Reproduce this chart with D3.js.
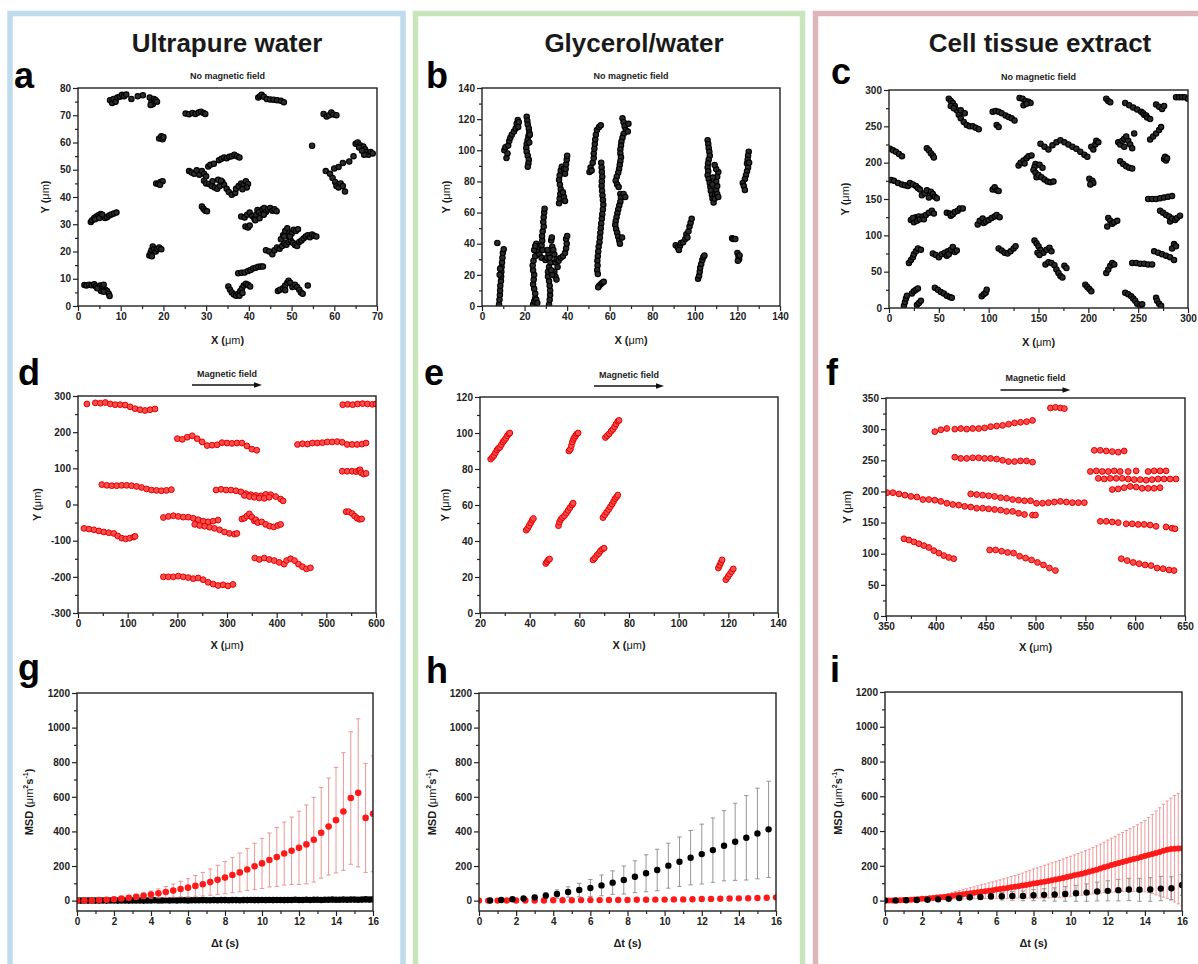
<!DOCTYPE html>
<html lang="en">
<head>
<meta charset="utf-8">
<title>Particle trajectories and MSD</title>
<script src="https://cdn.jsdelivr.net/npm/d3@7"></script>
<style>
  body { margin: 0; background: #fff; }
  svg { display: block; font-family: "Liberation Sans", Arial, sans-serif; }
</style>
</head>
<body>
<svg id="fig" width="1198" height="964"></svg>
<script>
// ---- panel a : ultrapure water, no field (x, y in um) ----
const trajA = [
  [[7.5,75.5],[8,74.5],[8.3,76],[8.8,75],[9.2,76.5],[9.8,76.8],[10.3,77.5],[10.8,77],[11.3,77.6],[12.5,76],[14,77],[15.2,77.3]],
  [[16.8,76.5],[17.2,75],[17.5,74],[17.8,76],[18.2,75.5],[18.5,75],[17,73.8]],
  [[25.2,70.6],[26,70.4],[26.8,70.8],[27.5,70.5],[28.2,71],[28.8,71.3],[29.4,70.8],[29.8,70.5]],
  [[42.2,76.5],[42.6,77],[43,77.5],[43.5,76.8],[44.2,76],[45,75.8],[45.8,75.7],[46.6,75.5],[47.5,75.3],[48.2,74.8]],
  [[57.5,70.5],[58.2,69.5],[58.8,70],[59.3,71],[59.8,70.3],[60.5,70]],
  [[19,61.5],[19.5,62.3],[19.8,61.2],[20,62]],
  [[54.8,58.8]],
  [[65,59.5],[65.5,60],[66,59],[66.8,58.5],[67.2,57.5],[67.5,56.5],[68,55.5],[68.5,56.5],[69,56],[67,55.5],[65.8,58.2],[66.5,57]],
  [[58,49.5],[59,48.5],[59.6,47],[60.2,45.5],[60.5,44],[61,43.5],[61.5,45],[62,44],[62.5,42],[60,50.5],[61,51],[62,52.5],[63.5,53],[64.5,55]],
  [[18.3,45],[18.8,44.8],[19.3,45.5],[19.8,45.8],[19.2,44.5]],
  [[3,30.8],[3.3,31.5],[3.8,32.3],[4.3,32.8],[4.8,33.3],[5.3,33.8],[5.8,32.8],[6.3,32.3],[6.8,32.6],[7.3,33.2],[7.8,33.6],[8.4,33.9],[9,34.3],[4,31.8],[5,32.3],[5.7,33.5]],
  [[16.7,18.5],[17,19.5],[17.2,20.5],[17.5,21.8],[17.8,20.8],[18.2,20],[18.6,20.8],[19,21.5],[19.5,20.8],[17.3,18.3]],
  [[1.5,7.7],[2,7.5],[2.6,7.8],[3.2,7.6],[3.8,8],[4.2,7.2],[4.8,6.8],[5.2,7.5],[5.6,6.5],[6,7.8],[6.4,6],[6.8,5.5],[7.2,4.5],[7.4,3.7],[5.4,5.5],[6,5.2],[4.5,6.5]],
  [[26,49.5],[26.6,49],[27.2,48.5],[27.8,49.8],[28.4,48.2],[29,49.5],[29.5,48.5],[30,47.6],[30.5,51.2],[31,51.8],[31.8,52.2]],
  [[33,53.5],[33.6,54],[34.2,54.5],[34.8,54.2],[35.4,54.8],[36,55],[36.6,55.5],[37.2,55],[37.8,54.5]],
  [[29.5,46],[30,45],[30.7,44.8],[31.3,44],[32,43.5],[32.6,43],[33.2,44],[33.8,45.5],[34.2,44.5],[34.8,43],[35.3,41.8],[36,40.8],[36.8,41.5],[32.8,46.3],[33.5,46],[31.5,45.8]],
  [[37,43],[37.6,44],[38.2,45],[38.8,44.5],[39.3,45.8],[39.8,44.8],[39.5,43.5],[38.5,42.8]],
  [[29,36.5],[29.4,35.6],[29.8,35],[30.2,34.8]],
  [[38.2,32.8],[39,32.5],[39.6,33.5],[40.2,34.3],[40.8,33],[41.3,32],[41.7,33.5],[42,35.2],[42.4,34.5],[42.8,33.3],[43.2,35.5],[43.6,36],[44,34.5],[44.5,35.5],[45,36],[45.5,35],[46,35.5],[46.5,34.8],[41.5,31.5],[42.5,32.2],[43.5,33.5],[39.2,29.2],[39.8,28.8],[40.2,29.5]],
  [[44,20.5],[44.8,20],[45.5,19],[46,20.5],[46.6,21.5],[47.2,21],[47.8,22],[48.3,23],[48.8,22.5],[49.3,23.5],[49.8,24],[50.3,23.2],[50.8,22.4],[51.3,22],[51.8,23.5],[52.3,24],[52.8,24.8],[53.3,25.5],[53.8,26],[54.3,25.2],[54.8,26.2],[55.3,25.8],[55.8,25.5]],
  [[47.5,24.5],[48,26],[48.5,27.5],[49,28.5],[49.5,27],[50,26.5],[50.5,28],[51,27.5],[51.5,28.2],[48.3,25.5],[49.6,25.5]],
  [[37.5,12],[38.3,12.2],[39,12.3],[39.8,12.8],[40.4,13.2],[41,13.8],[41.6,14],[42.2,14.4],[42.8,14.5],[43.3,14.5]],
  [[35.2,7.2],[35.6,6],[36,5],[36.5,4.2],[37,3.8],[37.5,4.5],[38,5.5],[38.4,6.5],[38.8,7.5],[39.3,8.2],[39.8,7.8],[40.3,7.2],[37.8,3.8],[38.5,4.8]],
  [[46.8,5.5],[47.3,6],[48,6.5],[48.5,7.5],[49,8.5],[49.3,9.3],[49.7,8.5],[50.2,7],[50.8,7.8],[51.3,7],[51.8,6],[52.2,5],[52.6,4.5],[53.8,7.5],[48.5,5.8]]
];

// ---- panel b : glycerol/water, no field ----
const trajB = [
  [[7.2,40.5],[8,1],[8.2,4],[8.4,7],[8.5,10],[8.6,13],[8.9,16],[9,19],[9.1,22],[9.2,25],[9.4,28],[9.6,31],[9.8,34],[10.2,36.5],[8.3,20],[8.5,24]],
  [[10.5,100],[11,102],[11.5,95],[12,98],[12.3,103],[12.8,106],[13.3,108],[14,110],[15,112],[15.8,114],[16.3,117],[16.8,119.5],[17.3,118],[17,115]],
  [[21,121.5],[21.3,119],[21.5,116.5],[22,114],[22.2,111.5],[21.8,109],[21.4,106.5],[21,104],[20.8,101.5],[21,99],[21.5,96.5],[22,94],[21.8,91.5],[21.5,89.5],[22.5,110],[22.2,105]],
  [[24,1],[24.5,3],[25,5],[25.5,4],[26,2],[25,8],[24.5,11],[24,14],[24.3,17],[24.5,20],[24,23],[23.8,26],[24.2,29],[25,32],[26,35],[26.5,38],[25.5,40],[27,33],[28,31],[28.5,36],[28,39],[28.3,42],[28.2,45],[28.5,48],[29,51],[28.8,54],[29,57],[29.2,60],[29.4,62.5],[29.8,29.5],[30.5,31],[24.5,36],[25,38.5]],
  [[31.5,1],[31.8,4],[32,7],[32,10],[31.8,13],[31.5,16],[31,19],[31,22],[31.5,25],[32.2,28],[31.8,31],[31.2,34],[30.8,36],[32.5,42],[32.8,44],[33,38],[33.5,36],[34,33],[34.5,28],[35,30],[35.5,25],[34,22],[34.5,19],[35,17],[36,29],[37,31],[38,32],[39,34],[39.5,37],[39.8,40],[39.5,43],[40,45],[33,20],[32.5,23]],
  [[36.2,66],[36.5,69],[36.8,72],[37,75],[36.6,78],[36.2,81],[36.5,84],[37,87],[37.5,89.5],[38.5,88],[39,85],[39.3,88],[39.5,91],[39.8,94],[40,96.5],[38.5,70],[39,67.5],[38,73]],
  [[50.5,86],[51,89],[51.5,87],[52,92],[52.5,95],[52.5,98],[52.8,101],[53,104],[53.2,107],[53.5,110],[54,113],[55,115],[55.8,116]],
  [[56,92],[56.2,89],[56.3,86],[56.5,83],[56.3,80],[56.2,77],[56.4,74],[56.6,71],[56.8,68],[57,65],[56.8,62],[56.5,59],[56.3,56],[56,53],[55.8,50],[55.6,47],[55.4,44],[55.2,41],[54.8,38],[54.6,35],[54.4,32],[54.2,29],[54.3,26],[54.1,23],[54.4,20.5],[55,13],[55.8,14],[56.5,15],[57.2,15.5],[54.6,12]],
  [[66,120.5],[66.5,118],[67,115.5],[67.5,113],[66.5,110.5],[66,108],[65.5,105.5],[65.3,103],[65,100.5],[65,98],[65.3,95.5],[65,93],[64.7,90.5],[64.4,88],[64,85.5],[63.3,83],[62.8,80.5],[63.5,78],[64.2,76.5],[65,72],[65.3,69.5],[65,67],[64.5,64.5],[64,62],[63.6,59.5],[63.2,57],[62.8,54.5],[62.6,52],[63,49.5],[63.5,47],[64,44.5],[64.5,42],[64.8,40],[65.8,44],[66.5,72],[67.3,70],[68.5,112],[68.8,117]],
  [[91,39],[92,37.5],[93,38.5],[93.5,40.5],[94.5,41],[95.5,43],[96,46],[97,48],[97.5,51],[98,53.5],[98.5,56],[92.5,36],[96.5,44]],
  [[101.5,17.5],[102,19.5],[102.3,22],[102.5,24.5],[103,27],[103.5,29.5],[104,31.5],[104.5,32.5]],
  [[106,106.5],[106.3,104],[106.5,101.5],[106.8,99],[107,96.5],[106.5,94],[106.2,91.5],[106,89],[106.3,86.5],[106,84],[106.5,81.5],[107,79],[107.3,76.5],[107.5,74],[108,71.5],[108.3,69],[108.8,66.5],[109.3,69],[109.5,72],[110,74.5],[110.5,72],[111,70],[110.5,77],[110,80],[110.5,83],[111,86],[110,88],[109.3,90.5],[108.5,82.5],[108.2,78]],
  [[117.5,43.5],[118,43],[119,43]],
  [[120,34],[120.5,32],[120.8,30],[120.2,29],[121,32.5]],
  [[125.3,99],[125,96.5],[124.8,94],[124.5,91.5],[125,89],[124.5,86.5],[124,84],[123.5,81.5],[122.5,79],[123,77],[123.5,74.5],[125.5,92]]
];

// ---- panel c : cell tissue extract, no field ----
const trajC = [
  [[1,219],[4,217],[7,215],[10,212],[13,209]],
  [[2,176],[5,175],[9,172],[13,170],[16,169],[19,168]],
  [[21,172],[24,170],[27,168],[29,165],[31,163]],
  [[33,155],[36,158],[38,162],[40,152],[42,160],[44,157],[46,153],[48,151]],
  [[38,220],[40,217],[42,213],[44,210],[45,207]],
  [[22,121],[25,118],[27,125],[28,120],[30,126],[31,122],[34,126],[35,122],[37,128],[40,131],[43,134],[45,130],[24,124]],
  [[58,131],[61,130],[62,127],[64,129],[66,132],[69,134],[71,137],[74,137]],
  [[20,62],[22,66],[24,70],[25,74],[27,78],[29,82],[32,80]],
  [[44,75],[47,73],[50,70],[53,74],[56,76],[58,72],[59,78],[60,74],[62,80],[64,84],[66,77],[68,79]],
  [[15,3],[16,8],[17,13],[18,17]],
  [[23,20],[25,23],[27,25],[29,27]],
  [[28,4],[30,7],[32,10]],
  [[46,28],[49,25],[52,22],[55,20],[58,17],[61,15],[63,14]],
  [[60,288],[62,285],[64,282],[66,278],[68,272],[70,266],[72,261],[75,256],[78,252],[81,250],[84,250],[87,248],[90,246],[72,272],[76,268],[62,278],[65,275]],
  [[89,115],[91,120],[94,123],[95,117],[97,119],[100,121],[103,124],[106,126],[108,128],[111,125]],
  [[104,163],[106,166],[108,162],[110,161]],
  [[104,270],[107,271],[110,270],[113,268],[117,265],[120,263],[123,261],[126,258],[108,252],[110,249]],
  [[110,82],[113,79],[116,76],[119,75],[122,78],[125,82],[127,85]],
  [[93,16],[95,19],[97,21],[98,25]],
  [[131,289],[134,288],[137,285],[140,284],[142,282],[135,279],[138,281]],
  [[130,196],[132,200],[135,203],[136,199],[138,206],[140,209],[143,210]],
  [[147,198],[146,194],[145,190],[147,186],[148,180],[150,183],[153,180],[156,177],[159,174],[162,173],[165,174],[151,197],[154,193]],
  [[146,93],[148,89],[150,85],[152,80],[155,76],[158,80],[161,83],[163,78],[149,76],[151,73]],
  [[157,60],[160,63],[163,62],[166,59],[168,53],[170,48],[172,44],[174,42],[176,58],[178,55]],
  [[152,226],[156,222],[160,218],[164,224],[168,228],[172,231],[176,228],[180,225],[184,222],[188,219],[192,215],[196,211],[199,208]],
  [[201,178],[204,175],[205,172],[202,170]],
  [[203,222],[205,218],[207,225],[208,230],[210,228]],
  [[197,32],[199,29],[201,26],[203,23]],
  [[218,48],[220,53],[222,58],[224,62],[226,60]],
  [[219,112],[220,124],[222,120],[224,116],[226,118],[229,120]],
  [[218,288],[220,285],[222,283]],
  [[230,228],[232,225],[234,230],[236,233],[236,222],[238,236],[240,230],[242,225],[244,220],[246,240]],
  [[232,202],[235,198],[238,195],[241,193],[244,192]],
  [[237,282],[241,279],[245,276],[249,273],[253,270],[255,268],[256,266],[258,265],[259,262],[262,260]],
  [[262,232],[265,236],[268,240],[271,245],[273,249]],
  [[268,280],[271,277],[274,274],[276,278]],
  [[288,290],[291,290],[294,290],[297,290],[300,288]],
  [[276,205],[278,203],[277,208],[279,206]],
  [[260,150],[264,150],[268,150],[272,151],[276,152],[280,153],[284,154]],
  [[272,134],[275,131],[278,128],[281,126],[282,119],[284,123],[287,121],[289,124],[292,127]],
  [[266,78],[270,76],[274,74],[278,72],[282,70],[286,66],[284,82],[286,88],[288,85]],
  [[244,62],[248,62],[252,61],[256,61],[260,60],[264,60]],
  [[237,21],[240,19],[243,16],[245,13],[247,10],[249,6]],
  [[252,3],[254,5]],
  [[268,14],[269,10],[271,6],[273,3]]
];

// ---- panel d : ultrapure water, magnetic field ----
const trajD = [
  [[18,278],[35,281],[45,280],[55,282],[65,278],[75,276],[85,276],[95,275],[105,270],[115,265],[125,262],[135,260],[145,262],[155,264]],
  [[200,182],[210,180],[220,186],[230,190],[240,182],[250,173],[260,163],[270,164],[280,165],[290,171],[300,170],[310,169],[320,170],[330,170],[340,162],[350,153],[360,150]],
  [[442,166],[452,168],[462,167],[472,170],[482,170],[492,171],[502,173],[512,173],[522,174],[532,172],[542,166],[552,166],[562,166],[572,167],[580,170]],
  [[533,276],[543,277],[553,276],[563,278],[573,279],[583,278],[593,277],[600,278]],
  [[532,92],[542,92],[552,92],[560,91],[565,94],[568,96],[570,88],[575,84],[580,86]],
  [[540,-20],[545,-20],[552,-25],[557,-32],[562,-38],[567,-41],[571,-40]],
  [[48,55],[58,53],[68,52],[78,52],[88,53],[98,53],[108,52],[118,50],[128,47],[138,43],[148,40],[158,39],[168,38],[178,39],[188,41]],
  [[12,-66],[22,-68],[32,-70],[42,-73],[52,-76],[62,-78],[72,-80],[80,-87],[88,-93],[96,-95],[104,-93],[112,-90],[115,-88]],
  [[172,-36],[182,-33],[192,-31],[202,-33],[212,-35],[222,-35],[232,-38],[242,-42],[252,-46],[262,-48],[272,-46],[282,-43]],
  [[235,-55],[245,-58],[255,-60],[265,-63],[275,-66],[285,-70],[295,-76],[305,-80],[315,-82],[320,-80]],
  [[278,40],[288,42],[298,40],[308,40],[318,38],[328,35],[338,30],[348,27],[358,25],[368,24],[378,28],[388,27],[398,22],[408,15],[413,10],[335,25],[345,22],[355,20],[365,18],[375,17],[385,20]],
  [[330,-40],[335,-38],[340,-32],[345,-26],[350,-35],[355,-45],[358,-42],[362,-50],[370,-48],[378,-55],[386,-60],[394,-62],[402,-58],[408,-55]],
  [[356,-148],[365,-152],[375,-148],[385,-152],[395,-155],[405,-160],[415,-165],[420,-155],[428,-150],[436,-155],[444,-165],[452,-172],[460,-178],[468,-175]],
  [[172,-200],[182,-200],[192,-200],[202,-198],[212,-200],[222,-202],[232,-205],[242,-203],[252,-208],[262,-215],[272,-220],[282,-224],[292,-222],[302,-225],[312,-221]]
];

// ---- panel e : glycerol/water, magnetic field ----
const trajE = [
  [[24.3,85.5],[25,86.5],[25.6,87.5],[26.2,89],[26.8,90.5],[27.4,91.5],[28,92],[28.6,93.5],[29.2,95],[29.8,96],[30.4,97],[31,98.5],[31.6,99.5],[32,100]],
  [[55.8,90],[56.4,91],[56.8,93],[57.2,95],[57.6,96.5],[58,97.5],[58.5,98.5],[59,99.5],[59.5,100]],
  [[70.5,97.5],[71.2,98.5],[72,99.5],[72.8,101],[73.5,102],[74.2,103.5],[74.8,105],[75.5,106.5],[76,107]],
  [[38.6,46],[39.2,47],[39.8,48.5],[40.4,50],[41,51.5],[41.5,52.5]],
  [[51.6,48.5],[52,50.5],[52.5,52],[53.2,53],[54,54],[54.8,55.5],[55.5,57],[56.2,58.5],[57,60],[57.5,61]],
  [[69.5,53],[70.2,54.5],[71,56],[71.8,57.5],[72.5,59],[73.2,60.5],[73.8,62],[74.4,63.5],[75,64.5],[75.5,65.5]],
  [[46.5,27.5],[47,28.5],[47.5,29.5],[48,30]],
  [[65.5,29.5],[66.2,30.5],[67,32],[67.8,33],[68.5,34.5],[69.3,35.5],[70,36]],
  [[116,25],[116.5,26.5],[117,28],[117.5,29.5]],
  [[119,18.5],[119.8,20],[120.5,21.5],[121.3,23],[122,24.5]]
];

// ---- panel f : cell tissue extract, magnetic field ----
const trajF = [
  [[399,296],[405,299],[411,301],[419,300],[425,301],[431,300],[437,301],[443,301],[449,302],[455,304],[461,305],[467,306],[473,308],[479,310],[485,311],[491,312],[497,314]],
  [[515,334],[520,335],[525,334],[529,333]],
  [[419,255],[425,253],[431,253],[437,254],[443,254],[449,253],[455,253],[461,252],[467,250],[473,248],[479,248],[485,249],[491,249],[497,247]],
  [[351,198],[357,198],[363,196],[369,194],[375,192],[381,191],[387,187],[393,187],[399,186],[405,184],[411,181],[417,179],[423,178],[429,176],[435,175],[441,173],[447,173],[453,172],[459,171],[465,170],[471,168],[477,168],[483,165],[489,163],[497,162],[500,162]],
  [[435,196],[441,195],[447,194],[453,193],[459,192],[465,190],[471,189],[477,187],[483,186],[489,185],[495,185],[501,181],[507,181],[513,182],[519,183],[525,184],[531,183],[537,182],[543,182],[549,182]],
  [[368,124],[373,122],[378,119],[383,116],[388,113],[393,110],[398,105],[403,101],[408,97],[413,94],[418,92]],
  [[454,106],[460,106],[466,104],[472,102],[478,101],[484,96],[490,93],[496,90],[502,86],[508,82],[514,77],[520,73]],
  [[559,266],[565,266],[571,265],[577,264],[583,263],[589,265]],
  [[555,232],[561,233],[567,232],[573,232],[579,233],[585,232],[593,232],[601,233],[613,232],[619,233],[625,233],[631,233]],
  [[563,221],[569,220],[575,221],[581,221],[587,221],[593,220],[599,219],[605,219],[611,218],[617,219],[623,220],[629,220],[635,220],[641,220]],
  [[577,203],[583,204],[589,206],[595,208],[601,207],[607,205],[613,205],[619,205],[625,206]],
  [[565,152],[571,152],[577,151],[583,150],[591,148],[597,148],[603,147],[609,147],[615,146],[621,144],[631,143],[637,141],[640,140]],
  [[586,92],[592,89],[598,86],[604,84],[610,82],[616,81],[622,77],[628,76],[634,74],[639,73]]
];

// ---- MSD curves (dt in s, MSD in um^2 s^-1) ----
const dt02 = [0,0.2,0.4,0.6,0.8,1,1.2,1.4,1.6,1.8,2,2.2,2.4,2.6,2.8,3,3.2,3.4,3.6,3.8,4,4.2,4.4,4.6,4.8,5,5.2,5.4,5.6,5.8,6,6.2,6.4,6.6,6.8,7,7.2,7.4,7.6,7.8,8,8.2,8.4,8.6,8.8,9,9.2,9.4,9.6,9.8,10,10.2,10.4,10.6,10.8,11,11.2,11.4,11.6,11.8,12,12.2,12.4,12.6,12.8,13,13.2,13.4,13.6,13.8,14,14.2,14.4,14.6,14.8,15,15.2,15.4,15.6,15.8,16];

// g: ultrapure water
const gRedT = [0,0.4,0.8,1.2,1.6,2,2.4,2.8,3.2,3.6,4,4.4,4.8,5.2,5.6,6,6.4,6.8,7.2,7.6,8,8.4,8.8,9.2,9.6,10,10.4,10.8,11.2,11.6,12,12.4,12.8,13.2,13.6,14,14.4,14.8,15.2,15.6,16];
const gRed = [0,0,1,3,5,8,12,16,22,28,35,42,50,58,67,75,85,95,107,120,133,148,163,180,198,215,235,252,272,288,305,325,352,392,428,465,515,593,623,478,502];
const gRedErr = [0,0,1,2,3,5,7,10,13,17,21,26,32,38,45,52,60,68,76,84,93,102,112,122,133,145,156,170,182,195,212,228,245,262,280,305,340,383,428,315,335];
const gBlack = [0,0,0,0,1,0,0,1,0,1, 1,0,1,1,0,1,1,1,0,1, 1,2,1,1,2,1,2,1,2,2, 1,2,2,2,3,2,2,3,2,3,
                3,2,3,3,2,3,3,4,3,3, 4,3,4,3,4,4,3,4,4,5, 4,4,5,4,5,5,4,5,5,6, 5,5,6,5,6,6,5,6,7,6, 7];

// h: glycerol/water
const hBlackT = [0.6,1.2,1.8,2.4,3,3.6,4.2,4.8,5.4,6,6.6,7.2,7.8,8.4,9,9.6,10.2,10.8,11.4,12,12.6,13.2,13.8,14.4,15,15.6];
const hBlack = [1,4,8,12,19,29,38,50,61,73,88,104,119,138,158,177,202,225,248,269,292,317,340,363,388,412];
const hBlackErr = [1,3,5,8,12,18,24,30,39,49,60,68,81,92,107,120,130,143,157,173,186,203,223,244,262,278];
const hRedT = [0,0.5,1,1.5,2,2.5,3,3.5,4,4.5,5,5.5,6,6.5,7,7.5,8,8.5,9,9.5,10,10.5,11,11.5,12,12.5,13,13.5,14,14.5,15,15.5,16];
const hRed = [0,0,0,1,1,1,1,1,2,2,2,3,3,3,4,4,4,5,5,6,6,7,7,8,9,10,11,12,13,14,15,17,19];

// i: cell tissue extract
const iRed = [0,0,1,1,2,3,4,5,6,8,10, 11,13,15,17,19,21,24,27,30,33, 36,39,42,45,48,51,54,57,60,63,
              66,69,72,76,79,83,86,90,94,98, 101,105,109,113,117,121,125,130,135,140,
              145,150,155,160,166,172,178,184,191,198, 204,210,216,222,228,234,239,244,250,256,
              262,268,274,280,287,293,296,298,299,301];
const iRedErr = [0,0,1,1,2,2,3,4,5,6,7, 8,9,10,12,13,15,17,19,21,24, 27,29,32,34,37,40,42,45,48,50,
                 53,56,59,62,65,68,72,76,80,84, 87,90,94,97,100,103,106,109,112,115,
                 118,121,124,127,130,133,137,141,145,150, 155,160,165,170,175,180,186,192,198,205,
                 215,228,241,254,267,280,293,306,318,330];
const iBlackT = [0,0.57,1.14,1.71,2.29,2.86,3.43,4,4.57,5.14,5.71,6.29,6.86,7.43,8,8.57,9.14,9.71,10.29,10.86,11.43,12,12.57,13.14,13.71,14.29,14.86,15.43,16];
const iBlack = [0,1,2,3,5,7,10,15,19,21,25,25,27,27,31,33,35,38,42,46,52,56,60,64,62,64,69,71,90];
const iBlackErr = [0,1,2,3,4,6,8,10,13,16,19,22,25,28,32,35,38,42,46,50,54,58,62,64,66,68,70,66,60];

// ---- figure ----
const svg = d3.select('#fig');
const FONT = '"Liberation Sans", Arial, sans-serif';
const INK = '#1a1a1a';

// column frames
const columns = [
  {x: 10, w: 393, color: '#bfdcef', title: 'Ultrapure water', cx: 227},
  {x: 415.5, w: 387, color: '#c8e6b9', title: 'Glycerol/water', cx: 634},
  {x: 815.5, w: 400, color: '#ddb5ba', title: 'Cell tissue extract', cx: 1040}
];
columns.forEach(c => {
  svg.append('rect').attr('x', c.x).attr('y', 13.5).attr('width', c.w).attr('height', 1000)
    .attr('fill', 'none').attr('stroke', c.color).attr('stroke-width', 5.5);
  svg.append('text').attr('x', c.cx).attr('y', 52).attr('text-anchor', 'middle')
    .attr('font-size', 26).attr('font-weight', 'bold').attr('fill', INK).text(c.title);
});

let clipCount = 0;
function minorTicks(domain, step) {
  const lo = Math.ceil(domain[0] / step) * step;
  return d3.range(lo, domain[1] + step / 100, step).filter(v => Math.abs(v / (2 * step) - Math.round(v / (2 * step))) > 1e-6);
}

function drawPanel(p) {
  const x = d3.scaleLinear().domain(p.xd).range([p.left, p.right]);
  const y = d3.scaleLinear().domain(p.yd).range([p.bottom, p.top]);
  const g = svg.append('g');
  const fmt = d => String(d);
  const xt = d3.range(p.xd[0], p.xd[1] + p.xs / 100, p.xs);
  const yt = d3.range(p.yd[0] < 0 && p.yFrom0 ? 0 : p.yd[0], p.yd[1] + p.ys / 100, p.ys);

  g.append('g').attr('class', 'axis').attr('transform', `translate(0,${p.bottom})`)
    .call(d3.axisBottom(x).tickValues(xt).tickSize(5).tickPadding(2).tickFormat(fmt));
  g.append('g').attr('class', 'axis').attr('transform', `translate(0,${p.bottom})`)
    .call(d3.axisBottom(x).tickValues(minorTicks(p.xd, p.xs / 2)).tickSize(3).tickFormat(''));
  g.append('g').attr('class', 'axis').attr('transform', `translate(${p.left},0)`)
    .call(d3.axisLeft(y).tickValues(yt).tickSize(5).tickPadding(2).tickFormat(fmt));
  g.append('g').attr('class', 'axis').attr('transform', `translate(${p.left},0)`)
    .call(d3.axisLeft(y).tickValues(minorTicks(p.yd, p.ys / 2)).tickSize(3).tickFormat(''));

  g.selectAll('.axis').attr('font-family', FONT).attr('font-size', 10);
  g.selectAll('.axis .domain').remove();
  g.selectAll('.axis line').attr('stroke', '#222').attr('stroke-width', 1.2);
  g.selectAll('.axis text').attr('font-weight', 'bold').attr('fill', '#222');

  const id = 'clip' + (clipCount++);
  svg.append('clipPath').attr('id', id).append('rect')
    .attr('x', p.left).attr('y', p.top).attr('width', p.right - p.left).attr('height', p.bottom - p.top);
  const plot = g.append('g').attr('clip-path', `url(#${id})`);

  g.append('rect').attr('x', p.left).attr('y', p.top)
    .attr('width', p.right - p.left).attr('height', p.bottom - p.top)
    .attr('fill', 'none').attr('stroke', '#222').attr('stroke-width', 1.4);

  // axis titles
  const xl = g.append('text').attr('x', (p.left + p.right) / 2).attr('y', p.xlabY)
    .attr('text-anchor', 'middle').attr('font-size', 11).attr('font-weight', 'bold').attr('fill', INK);
  p.xlab(xl);
  const yl = g.append('text').attr('transform', `translate(${p.ylabX},${(p.top + p.bottom) / 2}) rotate(-90)`)
    .attr('text-anchor', 'middle').attr('dominant-baseline', 'central')
    .attr('font-size', 11).attr('font-weight', 'bold').attr('fill', INK);
  p.ylab(yl);

  // panel letter
  svg.append('text').attr('x', p.letterX).attr('y', p.letterY).attr('font-size', 36)
    .attr('font-weight', 'bold').attr('fill', '#000').text(p.letter);

  return {x, y, plot, g};
}

const labXum = t => { t.text('X ('); t.append('tspan').attr('font-weight', 'normal').text('μm'); t.append('tspan').text(')'); };
const labYum = t => { t.text('Y ('); t.append('tspan').attr('font-weight', 'normal').text('μm'); t.append('tspan').text(')'); };
const labDt = t => t.text('Δt (s)');
const labMSD = t => {
  t.text('MSD (');
  t.append('tspan').attr('font-weight', 'normal').text('μm');
  t.append('tspan').attr('font-size', 7).attr('dy', -4).text('2');
  t.append('tspan').attr('font-size', 11).attr('dy', 4).text('s');
  t.append('tspan').attr('font-size', 7).attr('dy', -4).text('-1');
  t.append('tspan').attr('font-size', 11).attr('dy', 4).text(')');
};

function fieldNote(p, sc, text, arrowY) {
  const cx = (p.left + p.right) / 2;
  svg.append('text').attr('x', cx).attr('y', p.noteY).attr('text-anchor', 'middle')
    .attr('font-size', 9).attr('font-weight', 'bold').attr('fill', '#222').text(text);
  if (arrowY) {
    const x1 = cx - 35, x2 = cx + 35;
    svg.append('line').attr('x1', x1).attr('x2', x2 - 4).attr('y1', arrowY).attr('y2', arrowY)
      .attr('stroke', '#111').attr('stroke-width', 1.3);
    svg.append('path').attr('d', `M${x2},${arrowY} L${x2 - 8},${arrowY - 2.8} L${x2 - 8},${arrowY + 2.8} Z`).attr('fill', '#111');
  }
}

function drawTracks(sc, tracks, style) {
  sc.plot.selectAll(null).data(tracks.flat()).join('circle')
    .attr('cx', d => sc.x(d[0])).attr('cy', d => sc.y(d[1])).attr('r', style.r)
    .attr('fill', style.fill).attr('stroke', style.stroke).attr('stroke-width', style.sw);
}

function drawErr(sc, ts, vs, es, color, cap) {
  const data = ts.map((t, i) => ({t, v: vs[i], e: es[i]})).filter(d => d.e > 0);
  const gg = sc.plot.append('g').attr('stroke', color).attr('stroke-width', 0.9);
  gg.selectAll(null).data(data).join('line')
    .attr('x1', d => sc.x(d.t)).attr('x2', d => sc.x(d.t))
    .attr('y1', d => sc.y(d.v - d.e)).attr('y2', d => sc.y(d.v + d.e));
  [-1, 1].forEach(s => {
    gg.selectAll(null).data(data).join('line')
      .attr('x1', d => sc.x(d.t) - cap).attr('x2', d => sc.x(d.t) + cap)
      .attr('y1', d => sc.y(d.v + s * d.e)).attr('y2', d => sc.y(d.v + s * d.e));
  });
}

function drawPts(sc, ts, vs, r, fill, stroke) {
  sc.plot.selectAll(null).data(ts.map((t, i) => [t, vs[i]])).join('circle')
    .attr('cx', d => sc.x(d[0])).attr('cy', d => sc.y(d[1])).attr('r', r)
    .attr('fill', fill).attr('stroke', stroke || 'none').attr('stroke-width', 0.8);
}

const blackBall = {r: 2.7, fill: '#2b2b2b', stroke: '#000', sw: 1.1};
const redBall = {r: 2.9, fill: '#ff4d4d', stroke: '#e00000', sw: 1};

// row 1
const pa = {left: 78, right: 377, top: 88, bottom: 306, xd: [0, 70], yd: [0, 80], xs: 10, ys: 10,
  xlab: labXum, ylab: labYum, xlabY: 344, ylabX: 45, letter: 'a', letterX: 14, letterY: 88, noteY: 79};
const pb = {left: 482, right: 780, top: 88, bottom: 306, xd: [0, 140], yd: [0, 140], xs: 20, ys: 20,
  xlab: labXum, ylab: labYum, xlabY: 344, ylabX: 446, letter: 'b', letterX: 426, letterY: 88, noteY: 79};
const pc = {left: 889, right: 1188, top: 90, bottom: 308, xd: [0, 300], yd: [0, 300], xs: 50, ys: 50,
  xlab: labXum, ylab: labYum, xlabY: 346, ylabX: 845, letter: 'c', letterX: 831, letterY: 84, noteY: 80};
// row 2
const pd = {left: 78, right: 376, top: 396, bottom: 613, xd: [0, 600], yd: [-300, 300], xs: 100, ys: 100,
  xlab: labXum, ylab: labYum, xlabY: 649, ylabX: 37, letter: 'd', letterX: 18, letterY: 385, noteY: 377};
const pe = {left: 480, right: 778, top: 397, bottom: 613, xd: [20, 140], yd: [0, 120], xs: 20, ys: 20,
  xlab: labXum, ylab: labYum, xlabY: 649, ylabX: 445, letter: 'e', letterX: 424, letterY: 385, noteY: 378};
const pf = {left: 886, right: 1185, top: 398, bottom: 616, xd: [350, 650], yd: [0, 350], xs: 50, ys: 50,
  xlab: labXum, ylab: labYum, xlabY: 651, ylabX: 847, letter: 'f', letterX: 826, letterY: 385, noteY: 381};
// row 3
const pg = {left: 77, right: 373, top: 693, bottom: 911, xd: [0, 16], yd: [-60, 1200], xs: 2, ys: 200, yFrom0: true,
  xlab: labDt, ylab: labMSD, xlabY: 947, ylabX: 29, letter: 'g', letterX: 18, letterY: 680};
const ph = {left: 479, right: 776, top: 693, bottom: 911, xd: [0, 16], yd: [-60, 1200], xs: 2, ys: 200, yFrom0: true,
  xlab: labDt, ylab: labMSD, xlabY: 947, ylabX: 432, letter: 'h', letterX: 426, letterY: 683};
const pi = {left: 885, right: 1182, top: 692, bottom: 911, xd: [0, 16], yd: [-60, 1200], xs: 2, ys: 200, yFrom0: true,
  xlab: labDt, ylab: labMSD, xlabY: 947, ylabX: 838, letter: 'i', letterX: 830, letterY: 682};

const sa = drawPanel(pa); drawTracks(sa, trajA, blackBall); fieldNote(pa, sa, 'No magnetic field');
const sb = drawPanel(pb); drawTracks(sb, trajB, blackBall); fieldNote(pb, sb, 'No magnetic field');
const sc = drawPanel(pc); drawTracks(sc, trajC, blackBall); fieldNote(pc, sc, 'No magnetic field');

const sd = drawPanel(pd); drawTracks(sd, trajD, redBall); fieldNote(pd, sd, 'Magnetic field', 385);
const se = drawPanel(pe); drawTracks(se, trajE, redBall); fieldNote(pe, se, 'Magnetic field', 386);
const sf = drawPanel(pf); drawTracks(sf, trajF, redBall); fieldNote(pf, sf, 'Magnetic field', 390);

// g
const sg = drawPanel(pg);
drawPts(sg, dt02, gBlack, 3.3, '#000');
drawErr(sg, gRedT, gRed, gRedErr, '#e98a8a', 2.2);
drawPts(sg, gRedT, gRed, 3.3, '#ff1a1a');

// h
const sh = drawPanel(ph);
drawErr(sh, hBlackT, hBlack, hBlackErr, '#8a8a8a', 2.2);
drawPts(sh, hRedT, hRed, 3.2, '#ff1a1a');
drawPts(sh, hBlackT, hBlack, 3.2, '#000');

// i
const si = drawPanel(pi);
drawErr(si, dt02, iRed, iRedErr, '#ec8e8e', 1.6);
drawErr(si, iBlackT, iBlack, iBlackErr, '#8a8a8a', 2.2);
drawPts(si, dt02, iRed, 3, '#ff1a1a');
drawPts(si, iBlackT, iBlack, 3.2, '#000');
</script>
</body>
</html>
